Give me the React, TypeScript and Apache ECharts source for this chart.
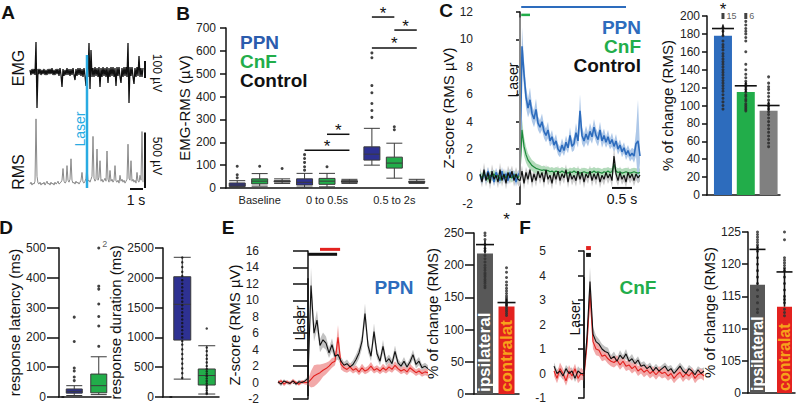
import React, { useEffect, useRef } from 'react';
import * as echarts from 'echarts';

const FONT = '"Liberation Sans", Arial, Helvetica, sans-serif';
const INK = '#111111';
const NAVY = '#2e3192';
const GREEN = '#22ad4a';
const BLUE = '#2d6cbd';
const RED = '#e3221f';
const DGRAY = '#585858';
const MGRAY = '#808080';

// ---------------- Panel A : raw EMG and RMS traces (arbitrary units) ----------------
const A_EMG = [2,-3,3,-2,3,-3,30,-36,3,-2, 3,-3,2,-2,3,-3,2,-3,3,-2, 3,-2,4,-3,2,-3,3,-2,3,-4, 4,-3,-15,3,-4,2,-3,4,-3,3,
  -4,3,-3,4,-3,-8,3,-4,4,-3, 4,-4,3,-5,4,-4,-14,4,-5,29, -17,22,-5,4,-5,5,-4,4,-5,5, -15,4,-5,5,-4,4,-5,5,-11,4,
  -5,5,-4,5,-5,4,-14,5,-4,5, -5,-11,4,-5,5,-4,5,-5,29,-31, 5,-4,5,-5,-12,4,-5,5,-4,16, -5,4,-5,4];
const A_RMS = [4,6,3,5,4,7,71,12,5,4, 6,3,5,4,6,3,5,7,4,5, 3,6,4,5,3,6,4,5,7,4, 5,6,8,20,7,5,6,23,8,6,
  9,30,8,5,6,4,7,5,6,4, 6,8,16,6,5,7,10,23,7,8, 6,9,12,53,10,7,9,40,8,11, 28,7,9,6,8,10,7,38,9,6,
  18,7,9,6,8,23,7,6,8,5, 13,7,9,6,8,5,7,9,45,10, 8,28,7,9,6,8,5,16,7,6, 13,8,58,6];
const A_LASER_INDEX = 57;

// ---------------- Panel B : EMG-RMS boxplots ----------------
const B_GROUPS = ['Baseline', '0 to 0.5s', '0.5 to 2s'];
const B_SERIES = ['PPN', 'CnF', 'Control'];
const B_BOXES = [
  [3, 7, 13, 22, 32], [8, 18, 30, 40, 63], [20, 26, 29, 32, 40],
  [4, 13, 25, 40, 64], [5, 16, 30, 42, 64], [20, 25, 28, 32, 38],
  [100, 122, 148, 180, 261], [43, 87, 109, 135, 196], [20, 24, 27, 30, 38],
];
const B_OUTLIERS = [[45, 58, 95], [95], [85], [78, 93, 112, 129, 146], [93], [], [309, 339, 370, 417, 448, 570, 591], [255, 268], []];
const B_SIG = [[3, 5, 165], [4, 5, 235], [6, 8, 613], [7, 8, 691], [6, 7, 748]];

// ---------------- Panel C : Z-score traces (t from -1 s, step 0.05 s) ----------------
const C_T0 = -1;
const C_DT = 0.05;
const C_PPN = [0.1,-0.3,0.3,-0.2,0.4,-0.1,0.2,-0.4,0.3,0.0,-0.3,0.4,-0.2,0.2,-0.3,0.3,-0.1,0.2,-0.4,0.1,
  0.3,9.5,7.5,5.8,5.0,5.6,4.6,4.2,4.9,3.9,3.6,4.0,3.3,3.0,3.4,2.6,2.9,2.3,2.6,2.0,1.8,2.3,1.9,2.5,2.1,3.0,2.2,2.4,3.2,2.6,
  4.8,3.0,2.6,3.1,2.7,3.3,2.9,3.6,3.0,2.7,3.4,2.6,3.0,2.5,2.9,2.4,2.7,2.2,2.6,2.0,2.3,1.8,2.1,1.6,1.9,1.5,1.7,1.5,2.4,2.6,1.5];
const C_PPN_SEM = [0.3,0.25,0.3,0.35,0.3,0.25,0.3,0.3,0.35,0.25,0.3,0.3,0.25,0.35,0.3,0.3,0.25,0.3,0.35,0.3,
  0.3,1.4,1.0,0.8,0.7,0.9,0.6,0.6,0.8,0.5,0.5,0.6,0.5,0.5,0.6,0.4,0.5,0.4,0.5,0.4,0.4,0.5,0.4,0.5,0.4,0.6,0.4,0.5,0.7,0.5,
  1.2,0.6,0.5,0.6,0.5,0.6,0.5,0.6,0.5,0.5,0.6,0.5,0.5,0.4,0.5,0.4,0.5,0.4,0.5,0.4,0.4,0.4,0.4,0.4,0.4,0.4,0.4,0.5,0.9,3.0,0.5];
const C_CNF = [0.1,-0.1,0.2,0.0,-0.2,0.1,0.0,0.2,-0.1,0.1,-0.2,0.0,0.1,-0.1,0.2,0.0,-0.1,0.1,0.0,-0.1,
  0.2,3.4,2.2,1.6,1.2,1.0,0.8,0.7,0.6,0.55,0.5,0.45,0.5,0.4,0.45,0.35,0.4,0.3,0.4,0.35,0.3,0.4,0.3,0.35,0.25,0.35,0.3,0.4,0.3,0.35,
  0.25,0.3,0.35,0.3,0.25,0.35,0.3,0.4,0.3,0.35,0.3,0.25,0.35,0.3,0.4,0.3,0.35,0.9,0.4,0.3,0.35,0.25,0.3,0.35,0.3,0.25,0.3,0.35,0.3,0.25,0.3];
const C_CNF_SEM = [0.3,0.35,0.3,0.3,0.25,0.3,0.35,0.3,0.3,0.25,0.3,0.35,0.3,0.3,0.25,0.3,0.35,0.3,0.3,0.3,
  0.3,0.8,0.7,0.6,0.5,0.45,0.4,0.4,0.35,0.35,0.35,0.3,0.3,0.3,0.3,0.3,0.3,0.3,0.3,0.3,0.3,0.3,0.3,0.3,0.3,0.3,0.3,0.3,0.3,0.3,
  0.3,0.3,0.3,0.3,0.3,0.3,0.3,0.3,0.3,0.3,0.3,0.3,0.3,0.3,0.3,0.3,0.3,0.5,0.3,0.3,0.3,0.3,0.3,0.3,0.3,0.3,0.3,0.3,0.3,0.3,0.3];
const C_CTRL = [0.2,-0.4,0.5,-0.3,0.3,-0.5,0.4,-0.2,0.1,-0.4,0.5,-0.3,0.2,-0.5,0.3,-0.1,0.4,-0.3,0.2,-0.2,
  -0.3,0.4,-0.5,0.3,-0.2,0.5,-0.4,0.2,-0.3,0.4,-0.1,0.3,-0.4,0.5,-0.2,0.1,-0.5,0.3,-0.2,0.4,
  -0.3,0.2,-0.1,0.5,-0.4,0.3,-0.2,0.1,-0.3,0.4,-0.2,0.3,-0.4,0.2,-0.1,0.4,-0.3,0.2,-0.2,0.3,
  -0.4,0.1,-0.2,0.3,-0.1,0.2,-0.3,1.5,0.2,-0.3,0.3,-0.2,0.1,-0.4,0.3,-0.1,0.2,-0.3,0.2,-0.1,0.1];
const C_CTRL_SEM = [0.45,0.4,0.5,0.45,0.4,0.45,0.5,0.45,0.4,0.45,0.5,0.45,0.4,0.45,0.5,0.45,0.4,0.45,0.5,0.45,
  0.45,0.4,0.45,0.4,0.45,0.4,0.45,0.4,0.45,0.4,0.45,0.4,0.45,0.4,0.45,0.4,0.45,0.4,0.45,0.4,
  0.45,0.4,0.45,0.4,0.45,0.4,0.45,0.4,0.45,0.4,0.45,0.4,0.45,0.4,0.45,0.4,0.45,0.4,0.45,0.4,
  0.45,0.4,0.45,0.4,0.45,0.4,0.5,0.8,0.5,0.4,0.45,0.4,0.45,0.4,0.45,0.4,0.45,0.4,0.45,0.4,0.45];
const C_BAR_NAMES = ['PPN', 'CnF', 'Control'];
const C_BAR_MEAN = [178, 115, 94];
const C_BAR_SEM = [8, 7, 6];
const C_DOTS = [
  [187,183,178,172,168,165,162,158,155,152,149,146,143,140,137,134,131,128,125,122,119,116,112,108,104,100,96],
  [194,190,186,183,180,176,172,160,146,140,135,131,127,124,121,118,115,112,110,107,105,102,100,98,96,94],
  [132,125,121,118,114,110,106,102,99,96,93,90,86,82,78,74,70,66,62,58,54],
];
const C_TOP = [200, 200];
const C_TOP_N = ['15', '6'];

// ---------------- Panel D ----------------
const D_NAMES = ['PPN', 'CnF'];
const D_LAT_BOX = [[5, 13, 19, 27, 38], [8, 14, 38, 77, 135]];
const D_LAT_OUT = [[55, 67, 87, 97, 186, 268], [170, 238, 270, 312, 362, 372]];
const D_LAT_TOP = 500;
const D_LAT_TOP_N = '2';
const D_DUR_BOX = [[300, 955, 1555, 2018, 2344], [50, 201, 360, 470, 860]];
const D_DUR_DOTS = [
  [2340,2260,2180,2100,2030,1960,1900,1840,1780,1720,1660,1600,1540,1480,1420,1360,1300,1240,1180,1120,1060,1000,940,880,800,720,640,560,480,400,320],
  [1150,830,770,700,640,580,520,470,430,390,350,310,270,230,190,150,110,70,50],
];

// ---------------- Panel E (PPN ipsi vs contra; t from -1 s, step 0.1 s) ----------------
const E_T0 = -1;
const E_DT = 0.1;
const E_IPSI = [0.1,-0.2,0.2,0.0,-0.1,0.2,-0.2,0.1,0.0,0.2,
  0.5,11.8,6.0,7.6,4.5,5.2,4.8,3.6,4.6,3.2,3.4,2.6,2.1,2.3,1.9,2.2,2.8,3.6,5.0,8.4,4.5,3.2,6.2,3.5,2.6,4.4,2.5,2.9,2.3,3.8,
  2.4,2.0,2.6,1.9,2.5,3.4,2.2,2.6,1.8,2.0,1.7];
const E_IPSI_SEM = [0.2,0.25,0.2,0.2,0.25,0.2,0.2,0.25,0.2,0.2,
  0.3,2.2,1.0,1.2,0.8,0.9,0.8,0.6,0.8,0.6,0.6,0.5,0.4,0.5,0.4,0.5,0.6,0.7,0.9,1.2,0.8,0.6,1.0,0.6,0.5,0.8,0.5,0.5,0.5,0.7,
  0.5,0.4,0.5,0.4,0.5,0.6,0.5,0.5,0.4,0.4,0.4];
const E_CONTRA = [0.0,0.2,-0.2,0.1,-0.1,0.2,0.0,-0.2,0.1,0.0,
  0.0,0.4,0.8,1.0,1.2,1.5,1.7,2.0,2.4,2.6,5.5,2.2,1.8,1.6,1.9,1.5,1.7,1.3,1.8,1.4,1.6,2.0,1.5,1.7,1.4,1.8,1.5,1.9,1.6,2.1,
  1.7,1.4,1.6,1.3,1.8,1.5,1.2,1.4,1.1,1.3,1.2];
const E_CONTRA_SEM = [0.2,0.2,0.25,0.2,0.2,0.25,0.2,0.2,0.2,0.25,
  0.3,1.0,1.3,1.2,1.0,0.8,0.7,0.6,0.6,0.5,1.5,0.6,0.5,0.4,0.5,0.4,0.4,0.4,0.5,0.4,0.4,0.5,0.4,0.4,0.4,0.5,0.4,0.5,0.4,0.5,
  0.4,0.4,0.4,0.4,0.5,0.4,0.4,0.4,0.4,0.4,0.4];
const E_BAR_MEAN = [218, 136];
const E_BAR_SEM = [14, 6];
const E_DOTS = [
  [250,246,240,232,226,222,215,210,205,200,196,192,188,185,182,178,175,172,168,165],
  [196,189,181,174,169,164,160,156,152,149,146,143,141,139,137,134,131,128,125,122],
];
const E_TOP = [263, 263];
const E_TOP_N = ['9', '1'];

// ---------------- Panel F (CnF ipsi vs contra) ----------------
const F_T0 = -1;
const F_DT = 0.1;
const F_IPSI = [0.3,0.0,0.1,-0.1,0.2,0.0,0.1,-0.2,0.1,0.0,
  0.0,1.5,3.75,1.6,1.3,1.2,1.0,0.9,0.85,0.6,0.7,0.5,0.75,0.6,0.8,0.5,0.6,0.4,0.55,0.3,0.35,0.2,0.3,0.1,0.25,0.1,0.2,0.3,0.1,0.2,
  0.0,0.15,0.3,0.1,0.0,0.2,0.1,-0.05,0.15,0.0,0.1];
const F_IPSI_SEM = [0.15,0.15,0.2,0.15,0.15,0.2,0.15,0.15,0.2,0.15,
  0.15,0.3,0.6,0.3,0.25,0.2,0.2,0.2,0.2,0.15,0.2,0.15,0.2,0.15,0.2,0.15,0.2,0.15,0.15,0.15,0.15,0.15,0.15,0.15,0.15,0.15,0.15,0.15,0.2,0.15,
  0.15,0.15,0.15,0.2,0.15,0.15,0.15,0.15,0.15,0.2,0.15];
const F_CONTRA = [0.1,-0.2,0.2,0.0,-0.3,0.1,-0.1,0.2,-0.2,0.0,
  -0.1,1.2,3.3,1.3,1.0,0.95,0.7,0.75,0.6,0.5,0.45,0.55,0.35,0.5,0.3,0.35,0.2,0.3,0.1,0.2,0.05,0.15,0.0,0.1,-0.05,0.1,0.0,0.05,-0.1,0.0,
  -0.2,-0.05,0.05,-0.15,0.0,-0.1,0.05,-0.2,-0.05,0.0,-0.1];
const F_CONTRA_SEM = [0.2,0.2,0.25,0.2,0.2,0.25,0.2,0.2,0.2,0.25,
  0.2,0.3,0.5,0.3,0.25,0.25,0.2,0.2,0.2,0.2,0.2,0.2,0.2,0.2,0.2,0.2,0.2,0.2,0.2,0.2,0.2,0.2,0.2,0.2,0.2,0.2,0.2,0.2,0.2,0.2,
  0.2,0.2,0.2,0.2,0.2,0.2,0.2,0.2,0.2,0.2,0.2];
const F_BAR_MEAN = [116.8, 113.4];
const F_BAR_SEM = [5.5, 5.4];
const F_DOTS = [
  [125,124.6,124.2,123.8,123.4,123,122.6,122,121,120,119,118,117,116,115,114,113,112.5],
  [125.5,125,123.8,121,120.6,120.2,119.8,119.4,119,118,117,116,115,114.5,114,113,112.5,112],
];
const F_TOP = [126.5, 126.5];
const F_TOP_N = ['10', '12'];

// ---------------- helpers ----------------
const axLine = { show: true, lineStyle: { color: INK, width: 1.5 } };

function yAx(grid: number, min: number, max: number, interval: number, o: any = {}) {
  const label: any = { fontSize: 12, color: '#222', fontFamily: FONT, margin: o.margin ?? 6, formatter: o.formatter || ((v: number) => String(v)) };
  return {
    type: 'value', gridIndex: grid, min, max, interval,
    name: o.name || '', nameLocation: 'middle', nameGap: o.nameGap ?? 30,
    nameTextStyle: { fontSize: 15, color: INK, fontFamily: FONT },
    offset: o.offset || 0,
    axisLine: axLine,
    axisTick: { show: true, length: o.tick ?? 5, lineStyle: { color: INK, width: 1.5 } },
    axisLabel: label,
    splitLine: { show: false },
  };
}
function hiddenAx(grid: number, min: number, max: number) {
  return { type: 'value', gridIndex: grid, min, max, show: false, splitLine: { show: false } };
}
function barXAx(grid: number, min: number, max: number) {
  return { type: 'value', gridIndex: grid, min, max, axisLine: axLine, axisTick: { show: false }, axisLabel: { show: false }, splitLine: { show: false } };
}
function catXAx(grid: number, data: string[]) {
  return { type: 'category', gridIndex: grid, data, axisLine: axLine, axisTick: { show: false }, axisLabel: { show: false } };
}
function ts(t0: number, dt: number, vals: number[]) {
  return vals.map((v, i) => [Math.round((t0 + i * dt) * 1000) / 1000, v]);
}
// mean ± sem band, drawn as one polygon through the axes' scales
function bandSeries(xi: number, yi: number, t0: number, dt: number, mean: number[], sem: number[], color: string) {
  const data = mean.map((m, i) => [Math.round((t0 + i * dt) * 1000) / 1000, m - sem[i], m + sem[i]]);
  return {
    type: 'custom', xAxisIndex: xi, yAxisIndex: yi, silent: true, z: 1,
    encode: { x: 0, y: [1, 2] },
    data,
    renderItem: (params: any, api: any) => {
      if (params.dataIndex !== 0) return null;
      const lower = data.map((d) => api.coord([d[0], d[1]]));
      const upper = data.map((d) => api.coord([d[0], d[2]])).reverse();
      return { type: 'polygon', shape: { points: lower.concat(upper) }, style: { fill: color } };
    },
  };
}
function meanSeries(xi: number, yi: number, t0: number, dt: number, mean: number[], color: string, width: number) {
  return { type: 'line', xAxisIndex: xi, yAxisIndex: yi, symbol: 'none', silent: true, z: 3, lineStyle: { color, width }, itemStyle: { color }, data: ts(t0, dt, mean) };
}
function barSeries(xi: number, yi: number, means: number[], colors: string[], width: number) {
  return { type: 'bar', xAxisIndex: xi, yAxisIndex: yi, barWidth: width, silent: true,
    data: means.map((m, i) => ({ value: [i + 1, m], itemStyle: { color: colors[i] } })) };
}
function errSeries(xi: number, yi: number, means: number[], sems: number[], half: number) {
  return {
    type: 'custom', xAxisIndex: xi, yAxisIndex: yi, silent: true, z: 6,
    data: means.map((m, i) => [i + 1, m, sems[i]]),
    renderItem: (_p: any, api: any) => {
      const x = api.value(0), m = api.value(1), e = api.value(2);
      const b = api.coord([x, m]);
      const t = api.coord([x, m + e]);
      return {
        type: 'group',
        children: [
          { type: 'line', shape: { x1: b[0], y1: b[1], x2: t[0], y2: t[1] - 4 }, style: { stroke: INK, lineWidth: 1.6 } },
          { type: 'line', shape: { x1: t[0] - half, y1: t[1], x2: t[0] + half, y2: t[1] }, style: { stroke: INK, lineWidth: 1.6 } },
        ],
      };
    },
  };
}
function dotSeries(xi: number, yi: number, groups: number[][], tops: number[], topN: string[], color: string) {
  const data: any[] = [];
  groups.forEach((g, i) => g.forEach((v) => data.push([i + 1, v])));
  const topData = tops.map((v, i) => ({
    value: [i + 1, v],
    label: { show: true, formatter: topN[i], position: 'right', distance: 2, fontSize: 9, color: '#333', fontFamily: FONT },
  }));
  return [
    { type: 'scatter', xAxisIndex: xi, yAxisIndex: yi, symbolSize: 3, silent: true, z: 5, itemStyle: { color, opacity: 0.85 }, data },
    { type: 'scatter', xAxisIndex: xi, yAxisIndex: yi, symbol: 'rect', symbolSize: [3, 6], silent: true, z: 5, itemStyle: { color: INK }, data: topData },
  ];
}

function buildOption() {
  const bCats: string[] = [];
  B_GROUPS.forEach((g) => B_SERIES.forEach((s) => bCats.push(g + ' ' + s)));
  const bColors = [NAVY, GREEN, '#2a2a2a'];
  const bOut: any[] = [];
  B_OUTLIERS.forEach((arr, i) => arr.forEach((v) => bOut.push([i, v])));

  const dLatOut: any[] = [];
  D_LAT_OUT.forEach((arr, i) => arr.forEach((v) => dLatOut.push([i, v])));
  dLatOut.push({ value: [1, D_LAT_TOP], label: { show: true, formatter: D_LAT_TOP_N, position: 'right', distance: 2, fontSize: 9, color: '#333', offset: [0, -4] } });
  const dDurDots: any[] = [];
  D_DUR_DOTS.forEach((arr, i) => arr.forEach((v) => dDurDots.push([i, v])));
  const dColors = [NAVY, GREEN];

  return {
    animation: false,
    textStyle: { fontFamily: FONT },
    grid: [
      { left: 30, top: 34, width: 113, height: 76 },   // 0 A EMG
      { left: 30, top: 115, width: 113, height: 73 },  // 1 A RMS
      { left: 226, top: 28, width: 202, height: 160 }, // 2 B
      { left: 478, top: 12, width: 164, height: 192 }, // 3 C line
      { left: 707, top: 16, width: 73, height: 179 },  // 4 C bar
      { left: 62, top: 248, width: 49, height: 149 },  // 5 D latency
      { left: 170, top: 248, width: 49, height: 149 }, // 6 D duration
      { left: 278, top: 251, width: 150, height: 149 },// 7 E line
      { left: 474, top: 233, width: 45, height: 161 }, // 8 E bar
      { left: 554, top: 251, width: 150, height: 147 },// 9 F line
      { left: 748, top: 232, width: 47, height: 161 }, // 10 F bar
    ],
    xAxis: [
      hiddenAx(0, 0, 113),
      hiddenAx(1, 0, 113),
      catXAx(2, bCats),
      { type: 'category', gridIndex: 2, data: B_GROUPS, position: 'bottom', axisLine: { show: false }, axisTick: { show: false },
        axisLabel: { fontSize: 11, color: '#222', fontFamily: FONT, margin: 6 } },
      hiddenAx(3, -1.05, 3.05),
      barXAx(4, 0.3, 3.5),
      catXAx(5, D_NAMES),
      catXAx(6, D_NAMES),
      hiddenAx(7, -1, 4),
      barXAx(8, 0.49, 2.58),
      hiddenAx(9, -1, 4),
      barXAx(10, 0.648, 2.389),
    ],
    yAxis: [
      hiddenAx(0, -38, 38),
      hiddenAx(1, 0, 75),
      yAx(2, 0, 700, 100, { name: 'EMG-RMS (µV)', nameGap: 34, tick: 6, margin: 10 }),
      yAx(3, -2, 12, 2, { name: 'Z-score (RMS µV)', nameGap: 21, tick: 4, margin: 5 }),
      yAx(4, 0, 200, 20, { name: '% of change (RMS)', nameGap: 32, tick: 5, margin: 7 }),
      yAx(5, 0, 500, 100, { name: 'response latency (ms)', nameGap: 27, offset: 3, tick: 12, margin: 13 }),
      yAx(6, 0, 2500, 500, { name: 'response duration (ms)', nameGap: 30, offset: 7, tick: 8, margin: 9 }),
      yAx(7, -2, 16, 2, { name: 'Z-score (RMS µV)', nameGap: 33, tick: 15, margin: 19 }),
      yAx(8, 0, 250, 50, { name: '% of change (RMS)', nameGap: 30, tick: 9, margin: 10 }),
      yAx(9, -1, 5, 1, { tick: 6, margin: 8 }),
      yAx(10, 100, 125, 5, { name: '% of change (RMS)', nameGap: 23, tick: 6, margin: 7, formatter: (v: number) => (v === 100 ? '0' : String(v)) }),
    ],
    series: [
      // A
      { type: 'line', xAxisIndex: 0, yAxisIndex: 0, symbol: 'none', silent: true, lineStyle: { color: INK, width: 1.3 }, data: A_EMG.map((v, i) => [i, v]) },
      { type: 'line', xAxisIndex: 1, yAxisIndex: 1, symbol: 'none', silent: true, lineStyle: { color: '#8a8a8a', width: 1 }, data: A_RMS.map((v, i) => [i, v]) },
      // B
      { type: 'boxplot', xAxisIndex: 2, yAxisIndex: 2, boxWidth: [16, 16], silent: true,
        data: B_BOXES.map((v, i) => ({ value: v, itemStyle: { color: bColors[i % 3], borderColor: '#3a3a3a', borderWidth: 1 } })) },
      { type: 'scatter', xAxisIndex: 2, yAxisIndex: 2, symbolSize: 3, silent: true, itemStyle: { color: INK }, data: bOut },
      // C line
      bandSeries(4, 3, C_T0, C_DT, C_CTRL, C_CTRL_SEM, '#c9c9c9'),
      bandSeries(4, 3, C_T0, C_DT, C_CNF, C_CNF_SEM, '#b3dbbb'),
      bandSeries(4, 3, C_T0, C_DT, C_PPN, C_PPN_SEM, '#aec8e8'),
      meanSeries(4, 3, C_T0, C_DT, C_PPN, BLUE, 1.6),
      meanSeries(4, 3, C_T0, C_DT, C_CNF, '#1b8a3a', 1.2),
      meanSeries(4, 3, C_T0, C_DT, C_CTRL, INK, 1.2),
      // C bar
      barSeries(5, 4, C_BAR_MEAN, [BLUE, GREEN, MGRAY], 18),
      ...dotSeries(5, 4, C_DOTS, C_TOP, C_TOP_N, '#2a2a2a'),
      errSeries(5, 4, C_BAR_MEAN, C_BAR_SEM, 11),
      // D
      { type: 'boxplot', xAxisIndex: 6, yAxisIndex: 5, boxWidth: [16, 16], silent: true,
        data: D_LAT_BOX.map((v, i) => ({ value: v, itemStyle: { color: dColors[i], borderColor: '#3a3a3a', borderWidth: 1 } })) },
      { type: 'scatter', xAxisIndex: 6, yAxisIndex: 5, symbolSize: 3, silent: true, itemStyle: { color: INK }, data: dLatOut },
      { type: 'boxplot', xAxisIndex: 7, yAxisIndex: 6, boxWidth: [17, 17], silent: true,
        data: D_DUR_BOX.map((v, i) => ({ value: v, itemStyle: { color: dColors[i], borderColor: '#3a3a3a', borderWidth: 1 } })) },
      { type: 'scatter', xAxisIndex: 7, yAxisIndex: 6, symbolSize: 2.5, silent: true, itemStyle: { color: INK }, data: dDurDots },
      // E line
      bandSeries(8, 7, E_T0, E_DT, E_IPSI, E_IPSI_SEM, '#c2c2c2'),
      bandSeries(8, 7, E_T0, E_DT, E_CONTRA, E_CONTRA_SEM, '#f2a9a9'),
      meanSeries(8, 7, E_T0, E_DT, E_CONTRA, RED, 1.1),
      meanSeries(8, 7, E_T0, E_DT, E_IPSI, INK, 1.1),
      // E bar
      barSeries(9, 8, E_BAR_MEAN, [DGRAY, RED], 16),
      ...dotSeries(9, 8, E_DOTS, E_TOP, E_TOP_N, '#333'),
      errSeries(9, 8, E_BAR_MEAN, E_BAR_SEM, 9),
      // F line
      bandSeries(10, 9, F_T0, F_DT, F_IPSI, F_IPSI_SEM, '#c2c2c2'),
      bandSeries(10, 9, F_T0, F_DT, F_CONTRA, F_CONTRA_SEM, '#f2a9a9'),
      meanSeries(10, 9, F_T0, F_DT, F_CONTRA, RED, 1.1),
      meanSeries(10, 9, F_T0, F_DT, F_IPSI, INK, 1.1),
      // F bar
      barSeries(11, 10, F_BAR_MEAN, [DGRAY, RED], 15),
      ...dotSeries(11, 10, F_DOTS, F_TOP, F_TOP_N, '#333'),
      errSeries(11, 10, F_BAR_MEAN, F_BAR_SEM, 8),
    ],
  };
}

function buildGraphics(P: (xi: number, yi: number, x: number, y: number) => number[]) {
  const els: any[] = [];
  const ln = (a: number[], b: number[], stroke = INK, lineWidth = 1.5) =>
    els.push({ type: 'line', silent: true, z: 50, shape: { x1: a[0], y1: a[1], x2: b[0], y2: b[1] }, style: { stroke, lineWidth } });
  const tx = (x: number, y: number, text: string, o: any = {}) =>
    els.push({ type: 'text', silent: true, z: 50, x, y, rotation: o.rot || 0,
      style: { text, fill: o.color || INK, fontSize: o.size || 14, fontWeight: o.bold ? 'bold' : 'normal', fontFamily: FONT,
        align: o.align || 'center', verticalAlign: 'middle' } });
  const R = Math.PI / 2;

  // panel letters
  [['A', 8, 12], ['B', 183, 13], ['C', 446, 10], ['D', 6, 227], ['E', 228, 227], ['F', 525, 227]].forEach(([t, x, y]) =>
    tx(x as number, y as number, t as string, { size: 19, bold: true }));

  // ---- A
  ln(P(0, 0, A_LASER_INDEX, 17), P(1, 1, A_LASER_INDEX, 0), '#29abe2', 2.5);
  tx(80, 129, 'Laser', { color: '#29abe2', size: 14, rot: R });
  tx(18, 68, 'EMG', { size: 16, rot: R });
  tx(18, 172, 'RMS', { size: 16, rot: R });
  ln(P(0, 0, 115, -6), P(0, 0, 115, 11), INK, 2);
  tx(157, 73, '100 µV', { size: 12, rot: -R });
  ln(P(1, 1, 115, 0), P(1, 1, 115, 57), INK, 2);
  tx(157, 156, '500 µV', { size: 12, rot: -R });
  ln(P(1, 1, 100, -1), P(1, 1, 113, -1), INK, 2);
  tx(136, 200, '1 s', { size: 14 });

  // ---- B
  tx(240, 42, 'PPN', { align: 'left', size: 19, bold: true, color: '#2b5cad' });
  tx(240, 61, 'CnF', { align: 'left', size: 19, bold: true, color: GREEN });
  tx(240, 80, 'Control', { align: 'left', size: 19, bold: true });
  B_SIG.forEach(([a, b, v]) => {
    const p1 = P(2, 2, a, v), p2 = P(2, 2, b, v);
    ln(p1, p2, INK, 1.5);
    tx((p1[0] + p2[0]) / 2, p1[1] - 4, '*', { size: 17 });
  });

  // ---- C
  ln(P(4, 3, 0, 0), P(4, 3, 0, 11.6), '#888888', 2);
  tx(513, 80, 'Laser', { size: 14, rot: R });
  ln(P(4, 3, 0.03, 12.37), P(4, 3, 2.65, 12.37), BLUE, 2);
  ln(P(4, 3, 0.03, 11.79), P(4, 3, 0.25, 11.79), GREEN, 2.5);
  tx(641, 27, 'PPN', { align: 'right', size: 19, bold: true, color: BLUE });
  tx(641, 46, 'CnF', { align: 'right', size: 19, bold: true, color: GREEN });
  tx(641, 65, 'Control', { align: 'right', size: 19, bold: true });
  ln(P(4, 3, 2.3, -0.83), P(4, 3, 2.8, -0.83), INK, 2);
  tx(622, 199, '0.5 s', { size: 14 });
  const cb = P(5, 4, 1, 0);
  tx(cb[0], 9, '*', { size: 17 });

  // ---- D : extend the x axis lines to the offset y axes
  const d1 = P(6, 5, 0, 0), d2 = P(7, 6, 0, 0);
  ln([d1[0] - 16, d1[1]], [d1[0] - 10, d1[1]], INK, 1.5);
  ln([d2[0] - 20, d2[1]], [d2[0] - 10, d2[1]], INK, 1.5);

  // ---- E
  ln(P(8, 7, 0, -1.65), P(8, 7, 0, 12.7), INK, 1.5);
  tx(300, 323, 'Laser', { size: 14, rot: R });
  ln(P(8, 7, 0, 15.6), P(8, 7, 0.97, 15.6), INK, 3);
  ln(P(8, 7, 0.4, 16.2), P(8, 7, 1.07, 16.2), RED, 3);
  tx(394, 287, 'PPN', { size: 19, bold: true, color: BLUE });
  const e1 = P(9, 8, 1, 0), e2 = P(9, 8, 2, 0);
  tx(e1[0], e1[1] - 2, 'ipsilateral', { align: 'left', rot: R, size: 17, bold: true, color: '#ffffff' });
  tx(e2[0], e2[1] - 2, 'contralat', { align: 'left', rot: R, size: 17, bold: true, color: '#f7a21b' });
  tx(e2[0], 219, '*', { size: 17 });

  // ---- F
  ln(P(10, 9, 0, -0.59), P(10, 9, 0, 3.94), INK, 1.5);
  tx(575, 318, 'Laser', { size: 14, rot: R });
  ln(P(10, 9, 0.07, 5.12), P(10, 9, 0.23, 5.12), RED, 4);
  ln(P(10, 9, 0.07, 4.84), P(10, 9, 0.23, 4.84), INK, 4);
  tx(638, 287, 'CnF', { size: 19, bold: true, color: GREEN });
  const f1 = P(11, 10, 1, 100), f2 = P(11, 10, 2, 100);
  tx(f1[0], f1[1] - 2, 'ipsilateral', { align: 'left', rot: R, size: 16, bold: true, color: '#ffffff' });
  tx(f2[0], f2[1] - 2, 'contralat', { align: 'left', rot: R, size: 16, bold: true, color: '#f7a21b' });

  return els;
}

export default function App() {
  const ref = useRef<HTMLDivElement>(null);
  useEffect(() => {
    document.body.style.margin = '0';
    const el = ref.current as HTMLDivElement;
    const chart = echarts.init(el, null, { renderer: 'svg' });
    chart.setOption(buildOption() as any);
    const P = (xi: number, yi: number, x: number, y: number) =>
      chart.convertToPixel({ xAxisIndex: xi, yAxisIndex: yi } as any, [x, y]) as number[];
    chart.setOption({ graphic: { elements: buildGraphics(P) } } as any);
    return () => chart.dispose();
  }, []);
  return <div ref={ref} style={{ width: 800, height: 405 }} />;
}
